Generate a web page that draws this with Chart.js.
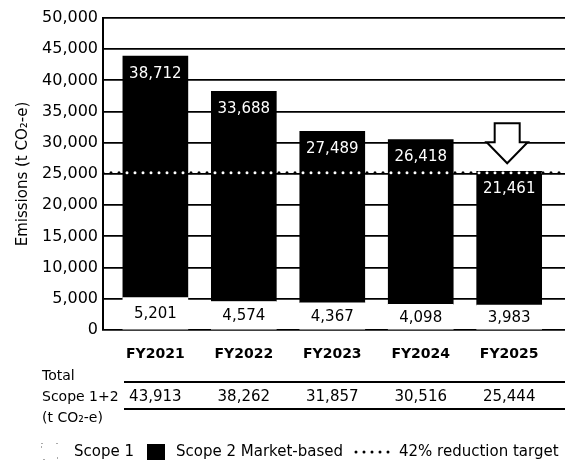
<!DOCTYPE html>
<html>
<head>
<meta charset="utf-8">
<script src="https://cdn.jsdelivr.net/npm/chart.js@4.4.1/dist/chart.umd.min.js"></script>
<style>
  html, body { margin: 0; padding: 0; background: #fff; }
  canvas { display: block; }
</style>
</head>
<body>
<canvas id="chart" width="565" height="468"></canvas>
<script>
// Fiscal years and emissions (t CO2-e)
const years  = ['FY2021', 'FY2022', 'FY2023', 'FY2024', 'FY2025'];
const scope1 = [5201, 4574, 4367, 4098, 3983];
const scope2 = [38712, 33688, 27489, 26418, 21461];
const totals = [43913, 38262, 31857, 30516, 25444];
const reductionTarget = 25200;

const FONT = "'DejaVu Sans', sans-serif";
const X_MIN = -0.592, X_MAX = 4.631;
const fmt = v => v.toLocaleString('en-US');

const overlay = {
  id: 'overlay',
  beforeDraw(chart) {
    const ctx = chart.ctx;
    ctx.save();
    ctx.fillStyle = '#fff';
    ctx.fillRect(0, 0, chart.width, chart.height);
    ctx.restore();
  },
  afterDatasetsDraw(chart) {
    const ctx = chart.ctx;
    const xs = chart.scales.x, ys = chart.scales.y;
    const m1 = chart.getDatasetMeta(0).data;
    const m2 = chart.getDatasetMeta(1).data;
    const ty = ys.getPixelForValue(reductionTarget);

    // target dots turn white where they cross the black bars
    m2.forEach(bar => {
      const p = bar.getProps(['x', 'y', 'base', 'width'], true);
      ctx.save();
      ctx.beginPath();
      ctx.rect(p.x - p.width / 2, p.y, p.width, p.base - p.y);
      ctx.clip();
      ctx.beginPath();
      ctx.setLineDash([0, 8]);
      ctx.lineCap = 'round';
      ctx.lineWidth = 3;
      ctx.strokeStyle = '#fff';
      ctx.moveTo(xs.getPixelForValue(X_MIN), ty);
      ctx.lineTo(xs.getPixelForValue(X_MAX), ty);
      ctx.stroke();
      ctx.restore();
    });

    // value labels
    ctx.save();
    ctx.textAlign = 'center';
    ctx.textBaseline = 'middle';
    ctx.font = '15px ' + FONT;
    m2.forEach((bar, i) => {
      const p = bar.getProps(['x', 'y'], true);
      ctx.fillStyle = '#fff';
      ctx.fillText(fmt(scope2[i]), p.x, p.y + 18);
    });
    m1.forEach((bar, i) => {
      const p = bar.getProps(['x', 'y', 'base'], true);
      ctx.fillStyle = '#000';
      ctx.fillText(fmt(scope1[i]), p.x, (p.y + p.base) / 2 + 1);
    });
    ctx.restore();

    // downward arrow above the latest year
    const last = m2[m2.length - 1].getProps(['x', 'y'], true);
    const ax = last.x - 2, tip = last.y - 8;
    const headTop = tip - 21, top = tip - 40;
    ctx.save();
    ctx.beginPath();
    ctx.moveTo(ax - 12.5, top);
    ctx.lineTo(ax + 12.5, top);
    ctx.lineTo(ax + 12.5, headTop);
    ctx.lineTo(ax + 20.5, headTop);
    ctx.lineTo(ax, tip);
    ctx.lineTo(ax - 20.5, headTop);
    ctx.lineTo(ax - 12.5, headTop);
    ctx.closePath();
    ctx.fillStyle = '#fff';
    ctx.fill();
    ctx.lineWidth = 2;
    ctx.lineJoin = 'miter';
    ctx.strokeStyle = '#000';
    ctx.stroke();
    ctx.restore();

    // table of totals
    ctx.save();
    ctx.fillStyle = '#000';
    ctx.textBaseline = 'middle';
    ctx.textAlign = 'center';
    ctx.font = 'bold 14px ' + FONT;
    years.forEach((y, i) => ctx.fillText(y, xs.getPixelForValue(i), 354));
    ctx.font = '15px ' + FONT;
    totals.forEach((t, i) => ctx.fillText(fmt(t), xs.getPixelForValue(i), 397));
    ctx.textAlign = 'left';
    ctx.font = '14px ' + FONT;
    ctx.fillText('Total', 42, 376);
    ctx.fillText('Scope 1+2', 42, 397);
    ctx.fillText('(t CO\u2082-e)', 42, 418);
    ctx.strokeStyle = '#000';
    ctx.lineWidth = 2;
    [382, 409].forEach(y => {
      ctx.beginPath();
      ctx.moveTo(124, y);
      ctx.lineTo(chart.width, y);
      ctx.stroke();
    });
    ctx.restore();

    // legend
    const ly = 452;
    ctx.save();
    ctx.font = '15px ' + FONT;
    ctx.textBaseline = 'middle';
    ctx.textAlign = 'left';
    ctx.fillStyle = '#000';
    // Scope 1 swatch: white box with a sparse dotted outline
    ctx.strokeStyle = '#555';
    ctx.lineWidth = 1;
    ctx.setLineDash([1, 14]);
    ctx.strokeRect(41.5, ly - 8.5, 16, 16);
    ctx.setLineDash([]);
    ctx.fillText('Scope 1', 74, ly);
    ctx.fillRect(147, ly - 8, 18, 16);
    ctx.fillText('Scope 2 Market-based', 176, ly);
    ctx.beginPath();
    ctx.setLineDash([0, 8]);
    ctx.lineCap = 'round';
    ctx.lineWidth = 3;
    ctx.strokeStyle = '#000';
    ctx.moveTo(356, ly);
    ctx.lineTo(392, ly);
    ctx.stroke();
    ctx.setLineDash([]);
    ctx.fillText('42% reduction target', 399, ly);
    ctx.restore();
  }
};

new Chart(document.getElementById('chart'), {
  type: 'bar',
  data: {
    datasets: [
      {
        label: 'Scope 1',
        data: scope1.map((v, i) => ({ x: i, y: v })),
        backgroundColor: '#fff',
        borderWidth: 0,
        barThickness: 65,
        order: 1
      },
      {
        label: 'Scope 2 Market-based',
        data: scope2.map((v, i) => ({ x: i, y: v })),
        backgroundColor: '#000',
        borderWidth: 0,
        barThickness: 65,
        order: 1
      },
      {
        type: 'line',
        label: '42% reduction target',
        data: [{ x: X_MIN, y: reductionTarget }, { x: X_MAX, y: reductionTarget }],
        borderColor: '#000',
        borderWidth: 3,
        borderDash: [0, 8],
        borderCapStyle: 'round',
        pointRadius: 0,
        fill: false,
        order: 0
      }
    ]
  },
  options: {
    responsive: false,
    animation: false,
    devicePixelRatio: 1,
    layout: { padding: { top: 18, right: 0, bottom: 138, left: 0 } },
    plugins: { legend: { display: false }, tooltip: { enabled: false } },
    scales: {
      x: {
        type: 'linear',
        min: X_MIN,
        max: X_MAX,
        offset: false,
        stacked: true,
        display: false
      },
      y: {
        stacked: true,
        min: 0,
        max: 50000,
        afterFit(scale) { scale.width = 103; },
        ticks: {
          stepSize: 5000,
          padding: 5,
          color: '#000',
          font: { family: FONT, size: 16 },
          callback: v => fmt(v)
        },
        grid: { color: '#000', lineWidth: 1.8, drawTicks: false },
        border: { display: true, color: '#000', width: 2 },
        title: {
          display: true,
          text: 'Emissions (t CO\u2082-e)',
          color: '#000',
          font: { family: FONT, size: 15 },
          padding: { top: 14, bottom: 0 }
        }
      }
    }
  },
  plugins: [overlay]
});
</script>
</body>
</html>
